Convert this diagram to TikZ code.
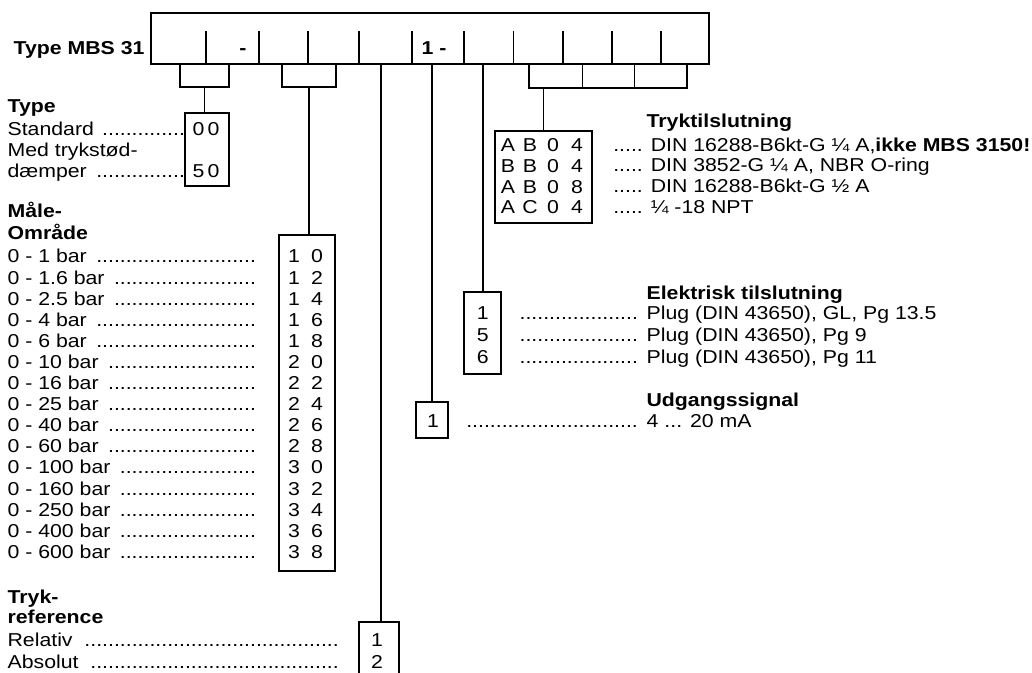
\documentclass[tikz,border=0pt]{standalone}
\usepackage{fontspec}
\setmainfont[FakeStretch=1.14]{Liberation Sans}
\usetikzlibrary{fit}
\newdimen\mypx \mypx=0.75pt
\newcommand\fs{\fontsize{14pt}{16pt}\selectfont}
\newcommand\dotrow[2]{\hbox to #1\mypx{#2\leaders\hbox{.}\hfill}}
\newcommand\dotlead[2]{\hbox to #1\mypx{\leaders\hbox{.}\hfill\ }#2}
\begin{document}
\begin{tikzpicture}[x=0.75pt,y=-0.75pt,line width=0.9pt,
  every node/.style={font=\fs},
  txt/.style={anchor=base west,inner sep=0pt},
  ctr/.style={anchor=base,inner sep=0pt},
  hd/.style={anchor=base west,inner sep=0pt,font=\fs\bfseries},
  hdc/.style={anchor=base,inner sep=0pt,font=\fs\bfseries},
  box/.style={draw,inner sep=0pt,rectangle}]
\useasboundingbox (0,0) rectangle (1032,673);

% top code box
\node[box,fit={(151,13) (709,64)}] (top) {};
\foreach \x in {206,259,308,359,412,464,513.7,563,612,661}
  \draw (\x,31) -- (\x,64);
\node[hd] (tmbs) at (13,54.5) {Type MBS 31};
\node[hdc] (dash1) at (243,54.5) {-};
\node[hdc] (one) at (434,54.5) {1 -};

% brackets
\node[box,fit={(180,64) (229,87)}] (br1) {};
\node[box,fit={(282,64) (336,87)}] (br2) {};
\node[box,fit={(529,64) (687,88)}] (br3) {};
\foreach \x in {582.7,634.7}
  \draw (\x,64) -- (\x,88);

% option boxes
\node[box,fit={(185,113) (229,186)}] (b00) {};
\node[box,fit={(279,235) (335,571)}] (mb) {};
\node[box,fit={(359,622) (399,676)}] (tr) {};
\node[box,fit={(416,402) (448,438)}] (ud) {};
\node[box,fit={(464,292) (501,374)}] (el) {};
\node[box,fit={(495,131) (592,223)}] (pc) {};

% connectors
\coordinate (c3) at (381,64);
\coordinate (c4) at (432,64);
\coordinate (c5) at (483,64);
\draw (br1.south) -- (br1.south |- b00.north);
\draw (br2.south) -- (br2.south |- mb.north);
\draw (c3) -- (c3 |- tr.north);
\draw (c4) -- (c4 |- ud.north);
\draw (c5) -- (c5 |- el.north);
\draw (pc.north |- br3.south) -- (pc.north);

% Type
\node[hd] (hType) at (7,113) {Type};
\node[txt] (lStd) at (7,135.5) {\dotrow{178}{Standard }};
\node[txt] (lMed) at (7,156.5) {Med trykstød-};
\node[txt] (lDae) at (7,178) {\dotrow{178}{dæmper }};
\node[ctr] (v00) at (206,135.5) {0\,0};
\node[ctr] (v50) at (206,178) {5\,0};

% Maale-omraade
\node[hd] (hM1) at (7,218) {Måle-};
\node[hd] (hM2) at (7,240) {Område};
\foreach \v/\a/\b [count=\i from 0] in {1/1/0,1.6/1/2,2.5/1/4,4/1/6,6/1/8,10/2/0,16/2/2,25/2/4,40/2/6,60/2/8,100/3/0,160/3/2,250/3/4,400/3/6,600/3/8}{
  \node[txt] (m\i) at (7,{263+21.1*\i}) {\dotrow{250}{0 - \v\ bar }};
  \node[ctr] (ma\i) at (294,{263+21.1*\i}) {\a};
  \node[ctr] (mz\i) at (317,{263+21.1*\i}) {\b};
}

% Tryk-reference
\node[hd] (hT1) at (7,603) {Tryk-};
\node[hd] (hT2) at (7,623) {reference};
\node[txt] (lRel) at (7,646.5) {\dotrow{333}{Relativ }};
\node[txt] (lAbs) at (7,668) {\dotrow{333}{Absolut }};
\node[ctr] (t1) at (377,646.5) {1};
\node[ctr] (t2) at (377,668) {2};

% Tryktilslutning
\node[hd] (hP) at (646,128) {Tryktilslutning};
\node[txt] (p1) at (612.7,151.5) {..... DIN 16288-B6kt-G ¼ A,\textbf{ikke MBS 3150!}};
\node[txt] (p2) at (612.7,172) {..... DIN 3852-G ¼ A, NBR O-ring};
\node[txt] (p3) at (612.7,193) {..... DIN 16288-B6kt-G ½ A};
\node[txt] (p4) at (612.7,214) {..... ¼ -18 NPT};
\foreach \a/\b/\c/\d [count=\i from 0] in {A/B/0/4,B/B/0/4,A/B/0/8,A/C/0/4}{
  \node[ctr] (pa\i) at (508,{151.5+20.8*\i}) {\a};
  \node[ctr] (pb\i) at (530,{151.5+20.8*\i}) {\b};
  \node[ctr] (pc\i) at (553,{151.5+20.8*\i}) {\c};
  \node[ctr] (pd\i) at (577,{151.5+20.8*\i}) {\d};
}

% Elektrisk tilslutning
\node[hd] (hE) at (646,300) {Elektrisk tilslutning};
\node[txt] (e1) at (519,320) {\dotlead{127}{Plug (DIN 43650), GL, Pg 13.5}};
\node[txt] (e2) at (519,342) {\dotlead{127}{Plug (DIN 43650), Pg 9}};
\node[txt] (e3) at (519,364) {\dotlead{127}{Plug (DIN 43650), Pg 11}};
\node[ctr] (ed1) at (482.7,320) {1};
\node[ctr] (ed2) at (482.7,342) {5};
\node[ctr] (ed3) at (482.7,364) {6};

% Udgangssignal
\node[hd] (hU) at (646,406.5) {Udgangssignal};
\node[txt] (u1) at (465.7,428) {\dotlead{180.3}{4 ... 20 mA}};
\node[ctr] (ud1) at (433,428) {1};
\end{tikzpicture}
\end{document}
